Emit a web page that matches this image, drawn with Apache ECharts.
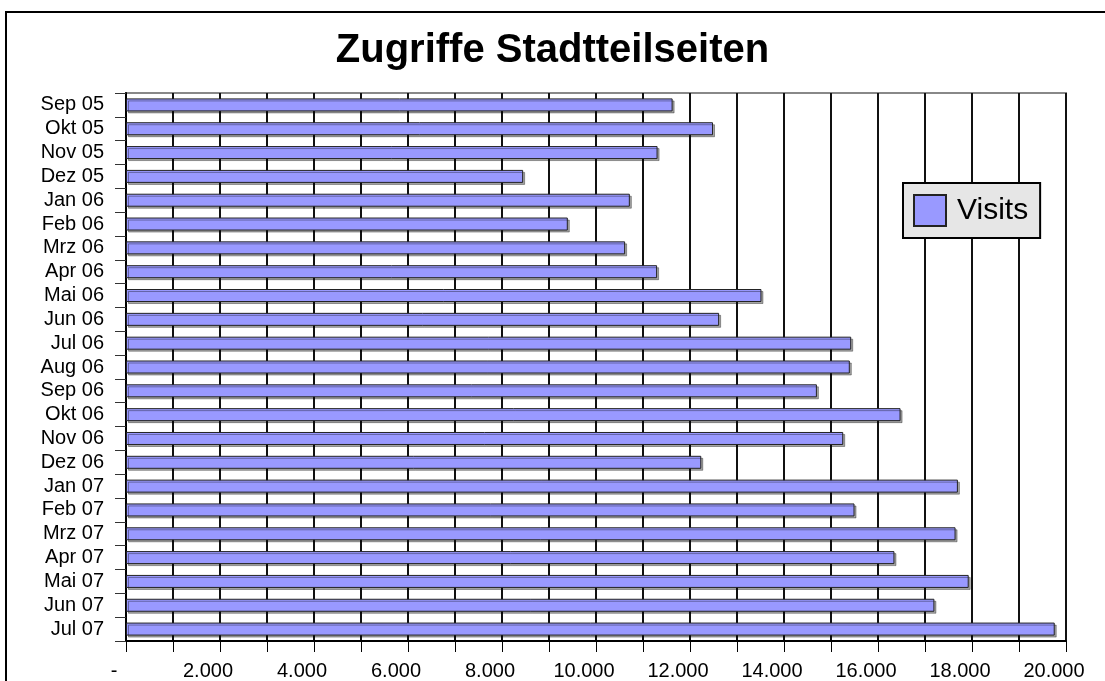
<!DOCTYPE html>
<html>
<head>
<meta charset="utf-8">
<script src="https://cdn.jsdelivr.net/npm/echarts@6/dist/echarts.min.js"></script>
<style>
html,body{margin:0;padding:0;background:#fff;}
#chart{width:1105px;height:681px;}
</style>
</head>
<body>
<div id="chart"></div>
<script>
const categories = ['Sep 05','Okt 05','Nov 05','Dez 05','Jan 06','Feb 06','Mrz 06','Apr 06','Mai 06','Jun 06','Jul 06','Aug 06','Sep 06','Okt 06','Nov 06','Dez 06','Jan 07','Feb 07','Mrz 07','Apr 07','Mai 07','Jun 07','Jul 07'];
const visits = [11630,12490,11310,8450,10720,9400,10620,11300,13520,12620,15430,15400,14700,16480,15260,12240,17700,15500,17650,16350,17930,17200,19760];
const seriesName = 'Visits';
const titleText = 'Zugriffe Stadtteilseiten';

const FONT = "'Liberation Sans', Arial, sans-serif";
const chart = echarts.init(document.getElementById('chart'), null, {renderer:'canvas'});
function fmt(v){
  if (v === 0) return '-';
  if (v % 2000 !== 0) return '';
  return (v/1000) + '.000';
}
chart.setOption({
  animation:false,
  backgroundColor:'#fff',
  textStyle:{fontFamily:FONT},
  title:{
    text:titleText, left:'center', top:26,
    textStyle:{fontFamily:FONT, fontSize:40, fontWeight:'bold', color:'#000'}
  },
  graphic:[{
    type:'rect', shape:{x:6,y:12,width:1120,height:700},
    style:{fill:'none', stroke:'#000', lineWidth:2}, z:100
  }],
  legend:{
    data:[{name:seriesName, icon:'rect'}],
    left:903, top:183,
    backgroundColor:'#e6e6e6', borderColor:'#000', borderWidth:2,
    padding:[11,12,11,10],
    itemWidth:32, itemHeight:31, itemGap:0,
    textStyle:{fontFamily:FONT, fontSize:30, color:'#000', padding:[0,0,0,6]}
  },
  grid:{
    left:126, right:39, top:93, bottom:39,
    show:true, borderColor:'#888', borderWidth:2, backgroundColor:'transparent'
  },
  xAxis:{
    type:'value', min:0, max:20000, interval:1000,
    axisLine:{show:true, lineStyle:{color:'#000', width:2}},
    axisTick:{show:true, length:11, lineStyle:{color:'#000', width:1}},
    splitLine:{show:true, lineStyle:{color:'#111', width:2}},
    axisLabel:{formatter:fmt, fontFamily:FONT, fontSize:20, color:'#000', margin:20, padding:[0,24,0,0]}
  },
  yAxis:{
    type:'category', data:categories, inverse:true,
    axisLine:{show:true, lineStyle:{color:'#000', width:2}},
    axisTick:{show:true, length:11, lineStyle:{color:'#333', width:1}},
    axisLabel:{interval:0, fontFamily:FONT, fontSize:20, color:'#000', margin:22, padding:[3,0,0,0]}
  },
  series:[{
    name:seriesName, type:'bar', data:visits, barWidth:13,
    itemStyle:{color:'#9999ff', borderColor:'#222', borderWidth:1,
      shadowColor:'rgba(0,0,0,0.35)', shadowOffsetX:2, shadowOffsetY:2, shadowBlur:0}
  }]
});
</script>
</body>
</html>
